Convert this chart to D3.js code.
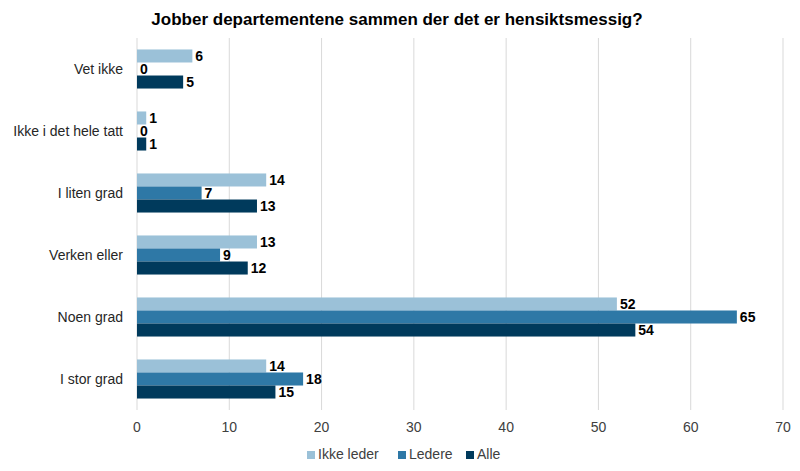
<!DOCTYPE html>
<html><head><meta charset="utf-8">
<script src="https://cdn.jsdelivr.net/npm/d3@7"></script>
<style>body{margin:0;background:#fff;font-family:"Liberation Sans",Arial,sans-serif}</style>
</head><body><svg id="c" width="800" height="471"></svg>
<script>
const categories = ["Vet ikke","Ikke i det hele tatt","I liten grad","Verken eller","Noen grad","I stor grad"];
const seriesNames = ["Ikke leder","Ledere","Alle"];
const ikkeLeder = [6,1,14,13,52,14];
const ledere = [0,0,7,9,65,18];
const alle = [5,1,13,12,54,15];
const ticks = [0,10,20,30,40,50,60,70];
const colors = ["#9bc1d8","#2e78a6","#003a5c"];
const seriesValues = [ikkeLeder, ledere, alle];

const svg = d3.select("#c");
const x = d3.scaleLinear().domain([0,70]).range([137,783]);
const y = d3.scaleBand().domain(categories).range([38,410]).paddingInner(0.37).paddingOuter(0.185);
const y1 = d3.scaleBand().domain(seriesNames).range([0,y.bandwidth()]);

svg.append("text").attr("x",397).attr("y",25).attr("text-anchor","middle")
  .attr("font-size",17).attr("font-weight","bold").attr("fill","#000")
  .text("Jobber departementene sammen der det er hensiktsmessig?");

svg.append("g").selectAll("line").data(ticks).join("line")
  .attr("x1",d=>x(d)).attr("x2",d=>x(d)).attr("y1",38).attr("y2",410)
  .attr("stroke","#d9d9d9").attr("stroke-width",1);

const g = svg.append("g");
categories.forEach((c,i)=>{
  seriesNames.forEach((s,j)=>{
    const v = seriesValues[j][i];
    const yy = y(c)+y1(s);
    g.append("rect").attr("x",x(0)).attr("y",yy).attr("width",x(v)-x(0)).attr("height",y1.bandwidth())
      .attr("fill",colors[j]);
    g.append("text").attr("x",x(v)+3).attr("y",yy+y1.bandwidth()/2).attr("dy","0.36em")
      .attr("font-size",14).attr("font-weight","bold").attr("fill","#000").text(v);
  });
});

svg.append("g").selectAll("text").data(categories).join("text")
  .attr("x",123).attr("y",d=>y(d)+y.bandwidth()/2).attr("dy","0.35em").attr("text-anchor","end")
  .attr("font-size",14).attr("fill","#262626").text(d=>d);

svg.append("g").selectAll("text").data(ticks).join("text")
  .attr("x",d=>x(d)).attr("y",432).attr("text-anchor","middle")
  .attr("font-size",14).attr("fill","#404040").text(d=>d);

const leg = svg.append("g");
const legX = [307,398,466];
seriesNames.forEach((s,j)=>{
  leg.append("rect").attr("x",legX[j]).attr("y",451).attr("width",8).attr("height",8).attr("fill",colors[j]);
  leg.append("text").attr("x",legX[j]+11).attr("y",459).attr("font-size",14).attr("fill","#404040").text(s);
});
</script></body></html>
